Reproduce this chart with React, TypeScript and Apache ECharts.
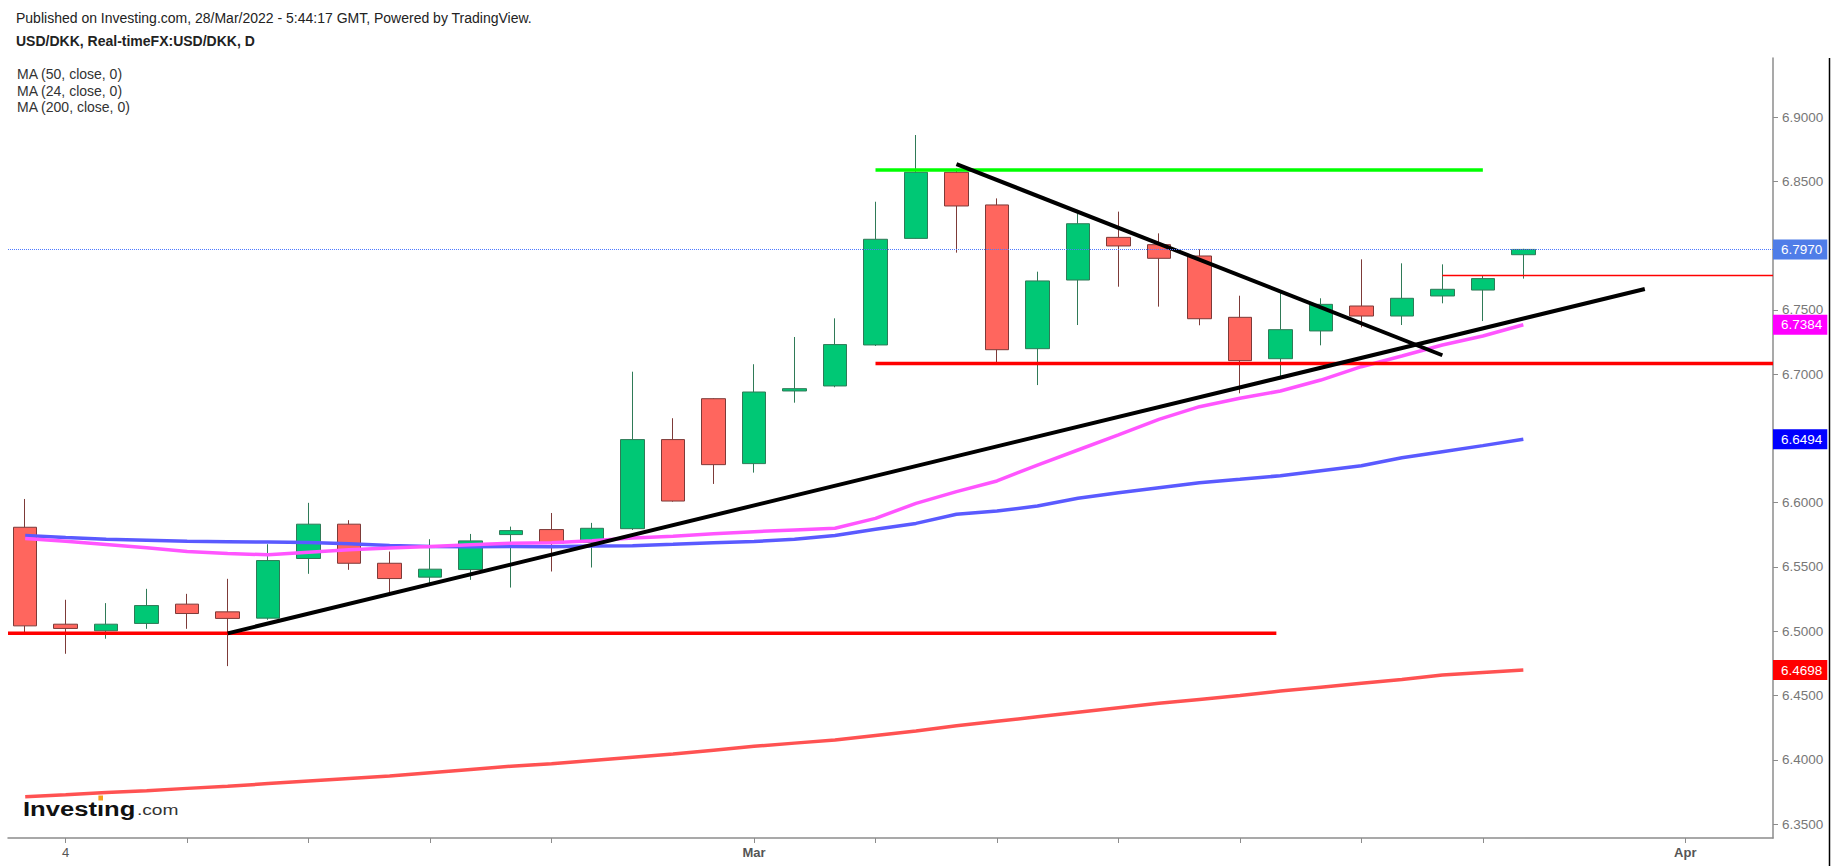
import React, { useEffect, useRef } from "react";
import * as echarts from "echarts";

// Trading days (index 0..37) of USD/DKK daily candles
const dates = [
  "2022-02-03", "2022-02-04", "2022-02-07", "2022-02-08", "2022-02-09", "2022-02-10", "2022-02-11",
  "2022-02-14", "2022-02-15", "2022-02-16", "2022-02-17", "2022-02-18", "2022-02-21", "2022-02-22",
  "2022-02-23", "2022-02-24", "2022-02-25", "2022-02-28", "2022-03-01", "2022-03-02", "2022-03-03",
  "2022-03-04", "2022-03-07", "2022-03-08", "2022-03-09", "2022-03-10", "2022-03-11", "2022-03-14",
  "2022-03-15", "2022-03-16", "2022-03-17", "2022-03-18", "2022-03-21", "2022-03-22", "2022-03-23",
  "2022-03-24", "2022-03-25", "2022-03-28",
];

const openP = [
  6.5809, 6.5055, 6.5004, 6.5061, 6.5211, 6.5151, 6.5102, 6.5566, 6.5833, 6.5529,
  6.5421, 6.548, 6.5752, 6.5791, 6.5692, 6.5798, 6.6491, 6.6809, 6.6304, 6.6869,
  6.6908, 6.7227, 6.8056, 6.857, 6.8316, 6.7198, 6.7732, 6.8064, 6.8007, 6.7919,
  6.7442, 6.712, 6.7336, 6.753, 6.7452, 6.7608, 6.7654, 6.7929,
];
const closeP = [
  6.5042, 6.5022, 6.5055, 6.52, 6.5138, 6.51, 6.555, 6.5833, 6.5529, 6.541,
  6.5483, 6.5703, 6.5783, 6.5685, 6.5801, 6.6491, 6.6013, 6.6296, 6.6861, 6.6887,
  6.723, 6.8049, 6.857, 6.8308, 6.719, 6.7725, 6.817, 6.7997, 6.7901, 6.7431,
  6.7105, 6.7346, 6.7543, 6.7452, 6.759, 6.766, 6.7743, 6.797,
];
const lowP = [
  6.4991, 6.4825, 6.4942, 6.5019, 6.5019, 6.4729, 6.5089, 6.5447, 6.5478, 6.5289,
  6.5353, 6.54, 6.534, 6.5465, 6.5496, 6.5788, 6.6008, 6.6146, 6.6234, 6.6778,
  6.6898, 6.7219, 6.8054, 6.7945, 6.7089, 6.6915, 6.7382, 6.768, 6.7525, 6.738,
  6.6851, 6.696, 6.7224, 6.7364, 6.7382, 6.7551, 6.7413, 6.7743,
];
const highP = [
  6.6029, 6.5245, 6.5219, 6.533, 6.5291, 6.5408, 6.5677, 6.5999, 6.5864, 6.562,
  6.5716, 6.5757, 6.5814, 6.592, 6.5843, 6.7019, 6.6657, 6.6812, 6.7077, 6.7289,
  6.7434, 6.8341, 6.886, 6.86, 6.8367, 6.7797, 6.8251, 6.8264, 6.8095, 6.7971,
  6.761, 6.7654, 6.759, 6.7893, 6.7862, 6.7854, 6.7763, 6.7975,
];

// Moving averages
const ma50 = [
  6.5745, 6.573, 6.5716, 6.5708, 6.57, 6.5697, 6.5694, 6.569, 6.568, 6.5668,
  6.566, 6.5658, 6.5659, 6.5658, 6.5663, 6.5666, 6.5676, 6.5688, 6.5698, 6.5715,
  6.5745, 6.5793, 6.5839, 6.591, 6.5935, 6.5974, 6.6034, 6.6078, 6.6117, 6.6156,
  6.6182, 6.621, 6.6249, 6.6288, 6.635, 6.6397, 6.6444, 6.6494,
];
const ma24 = [
  6.5722, 6.57, 6.5675, 6.565, 6.562, 6.5605, 6.5595, 6.5615, 6.5635, 6.5648,
  6.5659, 6.5672, 6.5685, 6.5688, 6.5705, 6.5725, 6.574, 6.5758, 6.5775, 6.5788,
  6.5801, 6.5878, 6.5995, 6.6086, 6.6169, 6.6293, 6.641, 6.6527, 6.6648, 6.6747,
  6.6812, 6.6869, 6.6954, 6.7058, 6.7141, 6.7227, 6.7297, 6.7384,
];
const ma200 = [
  6.3713, 6.3728, 6.3745, 6.376, 6.3778, 6.3795, 6.3815, 6.3835, 6.3855, 6.3875,
  6.39, 6.3925, 6.395, 6.397, 6.3995, 6.402, 6.4045, 6.4075, 6.4105, 6.413,
  6.4155, 6.419, 6.4225, 6.4265, 6.43, 6.4335, 6.437, 6.4405, 6.444, 6.447,
  6.45, 6.4535, 6.4565, 6.4595, 6.4625, 6.466, 6.468, 6.4698,
];

// Axis ticks and labels (6.8000 is hidden under the last-price tag in the original)
const yTicks = [6.35, 6.4, 6.45, 6.5, 6.55, 6.6, 6.65, 6.7, 6.75, 6.8, 6.85, 6.9];
const yLabels = [6.35, 6.4, 6.45, 6.5, 6.55, 6.6, 6.65, 6.7, 6.75, 6.85, 6.9];
const xTickIdx = [1, 4, 7, 10, 13, 18, 21, 24, 27, 30, 33, 36, 41];
const xLabelIdx = [1, 18, 41];
const xLabelText = ["4", "Mar", "Apr"];

// Visible ranges
const X_MIN = -0.425;
const X_MAX = 43.166;
const Y_MIN = 6.3392;
const Y_MAX = 6.9459;

// Hand-drawn annotations (index, price)
const trendUp = [[5, 6.4984], [40, 6.7662]];
const trendDown = [[23, 6.8634], [35, 6.7147]];
const resistance = [[21, 6.8588], [36, 6.8588]];
const supportMid = [[21, 6.7082], [X_MAX, 6.7082]];
const supportLow = [[X_MIN, 6.4985], [30.9, 6.4985]];
const thinRed = [[35, 6.7768], [X_MAX, 6.7768]];

const FONT = '"Liberation Sans", Arial, sans-serif';

function tag(bg: string) {
  return {
    show: true,
    position: "end" as const,
    distance: 0,
    formatter: (p: any) => Number(p.value).toFixed(4),
    color: "#fff",
    backgroundColor: bg,
    padding: [3, 5, 3, 8],
    fontSize: 13.5,
    fontFamily: FONT,
  };
}

function maSeries(data: number[], color: string, tagColor: string) {
  return {
    type: "line",
    data: data.map((v, i) => [i, v]),
    showSymbol: false,
    symbol: "none",
    silent: true,
    lineStyle: { color, width: 3.5 },
    markLine: {
      silent: true,
      precision: 4,
      symbol: ["none", "none"],
      data: [{ yAxis: data[data.length - 1] }],
      lineStyle: { color: "rgba(0,0,0,0)", width: 0 },
      label: tag(tagColor),
    },
  };
}

function drawLine(data: number[][], color: string, width: number) {
  return {
    type: "line",
    data,
    showSymbol: false,
    symbol: "none",
    silent: true,
    lineStyle: { color, width, cap: "butt" },
  };
}

export default function App() {
  const ref = useRef<HTMLDivElement>(null);
  useEffect(() => {
    if (!ref.current) return;
    const chart = echarts.init(ref.current, undefined, { renderer: "svg" });
    const option: any = {
      animation: false,
      backgroundColor: "#ffffff",
      grid: { left: 8, right: 64, top: 58, bottom: 28 },
      xAxis: {
        type: "value",
        min: X_MIN,
        max: X_MAX,
        splitLine: { show: false },
        axisLine: { show: true, onZero: false, lineStyle: { color: "#8c8c8c", width: 1.5 } },
        axisTick: { show: true, customValues: xTickIdx, length: 5, lineStyle: { color: "#8c8c8c" } },
        axisLabel: {
          customValues: xLabelIdx,
          margin: 8,
          color: "#555",
          fontSize: 13,
          fontFamily: FONT,
          formatter: (v: number) => {
            const k = xLabelIdx.indexOf(Math.round(v));
            if (k < 0) return "";
            return k === 0 ? xLabelText[k] : "{b|" + xLabelText[k] + "}";
          },
          rich: { b: { fontWeight: "bold", color: "#555", fontSize: 13, fontFamily: FONT } },
        },
      },
      yAxis: {
        type: "value",
        position: "right",
        min: Y_MIN,
        max: Y_MAX,
        splitLine: { show: false },
        axisLine: { show: true, onZero: false, lineStyle: { color: "#8c8c8c", width: 1.5 } },
        axisTick: { show: true, customValues: yTicks, length: 5, lineStyle: { color: "#8c8c8c" } },
        axisLabel: {
          customValues: yLabels,
          margin: 9,
          color: "#777",
          fontSize: 13.5,
          fontFamily: FONT,
          formatter: (v: number) => v.toFixed(4),
        },
      },
      series: [
        maSeries(ma200, "#ff5252", "#ff0000"),
        maSeries(ma50, "#5a5aff", "#0000ff"),
        maSeries(ma24, "#ff55ff", "#ff00ff"),
        {
          type: "candlestick",
          data: dates.map((d, i) => [i, openP[i], closeP[i], lowP[i], highP[i]]),
          encode: { x: 0, y: [1, 2, 3, 4] },
          barWidth: 24,
          silent: true,
          itemStyle: {
            color: "#00c875",
            color0: "#ff665e",
            borderColor: "#2f7a57",
            borderColor0: "#7d3a38",
            borderWidth: 1,
          },
          markLine: {
            silent: true,
            precision: 4,
            symbol: ["none", "none"],
            data: [{ yAxis: closeP[closeP.length - 1] }],
            lineStyle: { color: "#4d79ff", type: "dotted", width: 1 },
            label: tag("#4f7de8"),
          },
        },
        drawLine(supportLow, "#ff0000", 3.5),
        drawLine(supportMid, "#ff0000", 3.5),
        drawLine(resistance, "#00ff00", 3.5),
        drawLine(thinRed, "#ff0000", 1.5),
        drawLine(trendUp, "#000000", 4),
        drawLine(trendDown, "#000000", 4),
      ],
      graphic: [
        {
          type: "text",
          x: 16,
          y: 18,
          style: {
            text: "Published on Investing.com, 28/Mar/2022 - 5:44:17 GMT, Powered by TradingView.",
            fontSize: 14,
            fontFamily: FONT,
            fill: "#222",
            verticalAlign: "middle",
          },
        },
        {
          type: "text",
          x: 16,
          y: 41,
          style: {
            text: "USD/DKK, Real-timeFX:USD/DKK, D",
            fontSize: 14,
            fontWeight: "bold",
            fontFamily: FONT,
            fill: "#222",
            verticalAlign: "middle",
          },
        },
        {
          type: "text",
          x: 17,
          y: 74,
          style: { text: "MA (50, close, 0)", fontSize: 14, fontFamily: FONT, fill: "#333", verticalAlign: "middle" },
        },
        {
          type: "text",
          x: 17,
          y: 90.5,
          style: { text: "MA (24, close, 0)", fontSize: 14, fontFamily: FONT, fill: "#333", verticalAlign: "middle" },
        },
        {
          type: "text",
          x: 17,
          y: 107,
          style: { text: "MA (200, close, 0)", fontSize: 14, fontFamily: FONT, fill: "#333", verticalAlign: "middle" },
        },
        {
          type: "group",
          x: 23,
          y: 799,
          scaleX: 1.28,
          children: [
            {
              type: "text",
              x: 0,
              y: 0,
              style: {
                text: "Investing",
                fontSize: 20,
                fontWeight: "bold",
                fontFamily: FONT,
                fill: "#111",
                verticalAlign: "top",
              },
            },
            {
              type: "text",
              x: 89,
              y: 3.5,
              style: {
                text: ".com",
                fontSize: 15,
                fontFamily: FONT,
                fill: "#333",
                verticalAlign: "top",
              },
            },
          ],
        },
        {
          type: "rect",
          shape: { x: 98, y: 800.6, width: 5.4, height: 4 },
          style: { fill: "#ffffff" },
          z: 100,
        },
        {
          type: "rect",
          shape: { x: 98.4, y: 795.5, width: 4.6, height: 5 },
          style: { fill: "#f7a21b" },
          z: 101,
        },
        {
          type: "line",
          shape: { x1: 1829.5, y1: 58, x2: 1829.5, y2: 866 },
          style: { stroke: "#000", lineWidth: 1.5 },
        },
      ],
    };
    chart.setOption(option);
    return () => chart.dispose();
  }, []);
  return (
    <div
      ref={ref}
      style={{ position: "fixed", left: 0, top: 0, width: "1837px", height: "866px", background: "#fff" }}
    />
  );
}
